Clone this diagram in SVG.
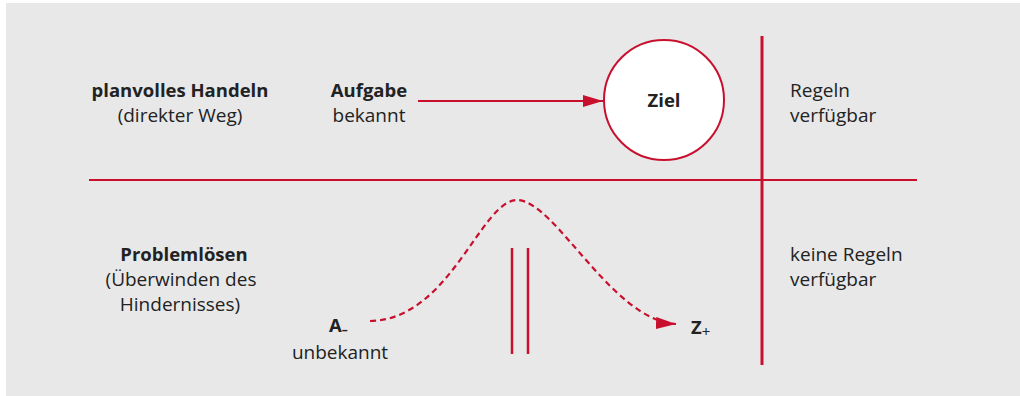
<svg xmlns="http://www.w3.org/2000/svg" width="1020" height="396" viewBox="0 0 1020 396">
<style>
text{font-family:"Open Sans","Noto Sans",sans-serif;font-size:19px;fill:#222}
.b{font-weight:bold;font-size:18.5px}
.c{text-anchor:middle}
.red{stroke:#c8102e;fill:none}
</style>
<defs>
<marker id="ah" viewBox="0 0 20 12" refX="20" refY="6" markerWidth="20" markerHeight="12" markerUnits="userSpaceOnUse" orient="auto"><path d="M0,0 L20,6 L0,12 Z" fill="#c8102e"/></marker>
</defs>
<rect x="6" y="3" width="1014" height="393" fill="#e8e8e8"/>
<g id="connectors">
<line class="red" x1="89" y1="180" x2="917" y2="180" stroke-width="2"/>
<line class="red" x1="762" y1="36" x2="762" y2="365" stroke-width="3"/>
<line class="red" x1="418" y1="101" x2="603" y2="101" stroke-width="2" marker-end="url(#ah)"/>
<path class="red" d="M370,321 C450,320 481,200 517,200 C555,200 612,321 676,324" stroke-width="2.2" stroke-dasharray="6,4" marker-end="url(#ah)"/>
</g>
<g id="obstacle">
<line class="red" x1="512" y1="248" x2="512" y2="354" stroke-width="2.5"/>
<line class="red" x1="528" y1="248" x2="528" y2="354" stroke-width="2.5"/>
</g>
<g id="ziel">
<circle cx="664" cy="100" r="60" fill="#fff" stroke="#c8102e" stroke-width="2"/>
<text class="b c" x="664" y="107">Ziel</text>
</g>
<g id="planvoll">
<text class="b c" x="180" y="97">planvolles Handeln</text>
<text class="c" x="180" y="122">(direkter Weg)</text>
</g>
<g id="aufgabe">
<text class="b c" x="369" y="97">Aufgabe</text>
<text class="c" x="369" y="122">bekannt</text>
</g>
<g id="regeln">
<text x="790" y="97">Regeln</text>
<text x="790" y="122">verfügbar</text>
</g>
<g id="problem">
<text class="b c" x="184" y="261">Problemlösen</text>
<text class="c" x="181" y="286">(Überwinden des</text>
<text class="c" x="180" y="311">Hindernisses)</text>
</g>
<g id="keine">
<text x="790" y="261">keine Regeln</text>
<text x="790" y="286">verfügbar</text>
</g>
<g id="a">
<text class="b" x="329" y="332">A<tspan font-size="12" dy="2">–</tspan></text>
<text class="c" x="340" y="359">unbekannt</text>
</g>
<g id="z">
<text class="b" x="691" y="334">Z<tspan font-size="15" font-weight="normal" dy="3">+</tspan></text>
</g>
</svg>
